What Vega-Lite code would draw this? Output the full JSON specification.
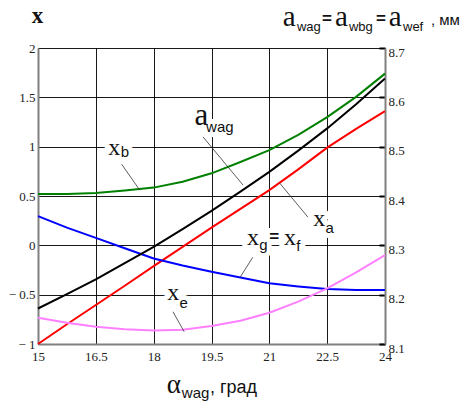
{
  "$schema": "https://vega.github.io/schema/vega-lite/v6.json",
  "width": 347,
  "height": 296,
  "autosize": {"type": "none"},
  "padding": {"left": 38, "top": 48, "right": 85, "bottom": 59},
  "background": "white",
  "config": {"view": {"stroke": null}},
  "datasets": {
    "curves": [
      {"s": "xb", "x": 15, "y": 0.52}, {"s": "xb", "x": 15.75, "y": 0.52}, {"s": "xb", "x": 16.5, "y": 0.53}, {"s": "xb", "x": 17.25, "y": 0.555}, {"s": "xb", "x": 18, "y": 0.585}, {"s": "xb", "x": 18.75, "y": 0.645}, {"s": "xb", "x": 19.5, "y": 0.73}, {"s": "xb", "x": 20.25, "y": 0.845}, {"s": "xb", "x": 21, "y": 0.965}, {"s": "xb", "x": 21.75, "y": 1.12}, {"s": "xb", "x": 22.5, "y": 1.3}, {"s": "xb", "x": 23.25, "y": 1.505}, {"s": "xb", "x": 24, "y": 1.74},
      {"s": "xa", "x": 15, "y": -1.0}, {"s": "xa", "x": 15.75, "y": -0.8}, {"s": "xa", "x": 16.5, "y": -0.605}, {"s": "xa", "x": 17.25, "y": -0.41}, {"s": "xa", "x": 18, "y": -0.21}, {"s": "xa", "x": 18.75, "y": -0.015}, {"s": "xa", "x": 19.5, "y": 0.18}, {"s": "xa", "x": 20.25, "y": 0.37}, {"s": "xa", "x": 21, "y": 0.56}, {"s": "xa", "x": 21.75, "y": 0.77}, {"s": "xa", "x": 22.5, "y": 0.99}, {"s": "xa", "x": 23.25, "y": 1.18}, {"s": "xa", "x": 24, "y": 1.36},
      {"s": "xg", "x": 15, "y": 0.296}, {"s": "xg", "x": 15.75, "y": 0.18}, {"s": "xg", "x": 16.5, "y": 0.076}, {"s": "xg", "x": 17.25, "y": -0.03}, {"s": "xg", "x": 18, "y": -0.133}, {"s": "xg", "x": 18.75, "y": -0.205}, {"s": "xg", "x": 19.5, "y": -0.268}, {"s": "xg", "x": 20.25, "y": -0.327}, {"s": "xg", "x": 21, "y": -0.385}, {"s": "xg", "x": 21.75, "y": -0.417}, {"s": "xg", "x": 22.5, "y": -0.443}, {"s": "xg", "x": 23.25, "y": -0.452}, {"s": "xg", "x": 24, "y": -0.453},
      {"s": "xe", "x": 15, "y": -0.734}, {"s": "xe", "x": 15.75, "y": -0.785}, {"s": "xe", "x": 16.5, "y": -0.825}, {"s": "xe", "x": 17.25, "y": -0.85}, {"s": "xe", "x": 18, "y": -0.862}, {"s": "xe", "x": 18.75, "y": -0.855}, {"s": "xe", "x": 19.5, "y": -0.818}, {"s": "xe", "x": 20.25, "y": -0.764}, {"s": "xe", "x": 21, "y": -0.683}, {"s": "xe", "x": 21.75, "y": -0.571}, {"s": "xe", "x": 22.5, "y": -0.437}, {"s": "xe", "x": 23.25, "y": -0.274}, {"s": "xe", "x": 24, "y": -0.1}
    ],
    "awag": [
      {"x": 15, "a": 8.172}, {"x": 15.75, "a": 8.201}, {"x": 16.5, "a": 8.231}, {"x": 17.25, "a": 8.264}, {"x": 18, "a": 8.297}, {"x": 18.75, "a": 8.333}, {"x": 19.5, "a": 8.37}, {"x": 20.25, "a": 8.409}, {"x": 21, "a": 8.449}, {"x": 21.75, "a": 8.492}, {"x": 22.5, "a": 8.537}, {"x": 23.25, "a": 8.586}, {"x": 24, "a": 8.638}
    ],
    "leaders": [
      {"x": 17.17, "y": 0.822, "x2": 17.64, "y2": 0.559},
      {"x": 19.28, "y": 1.099, "x2": 20.32, "y2": 0.61},
      {"x": 21.27, "y": 0.63, "x2": 22.0, "y2": 0.286},
      {"x": 20.57, "y": -0.122, "x2": 20.24, "y2": -0.325},
      {"x": 18.5, "y": -0.673, "x2": 18.79, "y2": -0.875}
    ],
    "labels": [
      {"k": "x", "g": "plot", "t": "x", "x": 16.82, "y": 0.914},
      {"k": "x", "g": "plot", "t": "x", "x": 22.14, "y": 0.195},
      {"k": "x", "g": "plot", "t": "x", "x": 20.42, "y": 0.002},
      {"k": "x", "g": "plot", "t": "x", "x": 21.38, "y": 0.002},
      {"k": "x", "g": "plot", "t": "x", "x": 18.35, "y": -0.554},
      {"k": "tx", "g": "title", "t": "x", "x": 14.84, "y": 2.25},
      {"k": "a", "g": "plot", "t": "a", "x": 19.06, "y": 1.217},
      {"k": "ta", "g": "title", "t": "a", "x": 21.35, "y": 2.22},
      {"k": "ta", "g": "title", "t": "a", "x": 22.7, "y": 2.22},
      {"k": "ta", "g": "title", "t": "a", "x": 24.1, "y": 2.22},
      {"k": "sub", "g": "plot", "t": "b", "x": 17.145, "y": 0.893},
      {"k": "sub", "g": "plot", "t": "wag", "x": 19.36, "y": 1.147},
      {"k": "sub", "g": "plot", "t": "a", "x": 22.46, "y": 0.124},
      {"k": "sub", "g": "plot", "t": "g", "x": 20.74, "y": -0.048},
      {"k": "sub", "g": "plot", "t": "f", "x": 21.7, "y": -0.055},
      {"k": "sub", "g": "plot", "t": "e", "x": 18.67, "y": -0.635},
      {"k": "tsub", "g": "title", "t": "wag", "x": 21.715, "y": 2.169},
      {"k": "tsub", "g": "title", "t": "wbg", "x": 23.065, "y": 2.169},
      {"k": "tsub", "g": "title", "t": "wef", "x": 24.467, "y": 2.169},
      {"k": "bsub", "g": "title", "t": "wag", "x": 18.73, "y": -1.547},
      {"k": "eq", "g": "plot", "t": "=", "x": 21.0, "y": 0.035},
      {"k": "eq", "g": "title", "t": "=", "x": 22.365, "y": 2.24},
      {"k": "eq", "g": "title", "t": "=", "x": 23.765, "y": 2.24},
      {"k": "unit", "g": "title", "t": ", мм", "x": 25.19, "y": 2.23},
      {"k": "alpha", "g": "title", "t": "α", "x": 18.34, "y": -1.496},
      {"k": "xunit", "g": "title", "t": ", град", "x": 19.46, "y": -1.496}
    ]
  },
  "encoding": {
    "x": {
      "field": "x", "type": "quantitative",
      "scale": {"domain": [15, 24], "nice": false, "zero": false},
      "axis": {
        "values": [15, 16.5, 18, 19.5, 21, 22.5, 24],
        "labelExpr": "'' + datum.value",
        "title": null, "grid": true, "gridColor": "#000000", "gridWidth": 1, "gridOpacity": 0.9,
        "ticks": false, "domainColor": "#808080", "domainWidth": 2,
        "labelFont": "Liberation Serif", "labelFontSize": 13, "labelColor": "#222222",
        "labelPadding": 6, "labelFlush": false, "labelOverlap": false
      }
    }
  },
  "layer": [
    {
      "encoding": {
        "y": {
          "field": "y", "type": "quantitative",
          "scale": {"domain": [-1, 2], "nice": false, "zero": false},
          "axis": {
            "values": [-1, -0.5, 0, 0.5, 1, 1.5, 2],
            "title": null, "grid": true, "gridColor": "#000000", "gridWidth": 1, "gridOpacity": 0.9,
            "ticks": false, "domainColor": "#808080", "domainWidth": 2,
            "labelFont": "Liberation Serif", "labelFontSize": 13, "labelColor": "#222222",
            "labelPadding": 3, "labelOverlap": false, "labelFlush": false,
            "labelExpr": "(datum.value < 0 ? '− ' : '') + abs(datum.value)"
          }
        }
      },
      "layer": [
        {
          "data": {"name": "curves"},
          "mark": {"type": "line", "strokeWidth": 2},
          "encoding": {
            "color": {"field": "s", "type": "nominal", "legend": null,
              "scale": {"domain": ["xb", "xa", "xg", "xe"], "range": ["#008000", "#ff0000", "#0000ff", "#ff80ff"]}}
          }
        },
        {
          "data": {"name": "labels"},
          "transform": [{"filter": "datum.g == 'plot' && datum.k == 'x'"}],
          "mark": {"type": "text", "font": "Liberation Serif", "fontSize": 24, "align": "left", "baseline": "alphabetic", "fill": "white", "stroke": "white", "strokeWidth": 10, "strokeJoin": "round"},
          "encoding": {"text": {"field": "t"}}
        },
        {
          "data": {"name": "labels"},
          "transform": [{"filter": "datum.g == 'plot' && datum.k == 'a'"}],
          "mark": {"type": "text", "font": "Liberation Serif", "fontSize": 31, "align": "left", "baseline": "alphabetic", "fill": "white", "stroke": "white", "strokeWidth": 10, "strokeJoin": "round"},
          "encoding": {"text": {"field": "t"}}
        },
        {
          "data": {"name": "labels"},
          "transform": [{"filter": "datum.g == 'plot' && datum.k == 'sub'"}],
          "mark": {"type": "text", "font": "Liberation Sans", "fontSize": 15, "align": "left", "baseline": "alphabetic", "fill": "white", "stroke": "white", "strokeWidth": 10, "strokeJoin": "round"},
          "encoding": {"text": {"field": "t"}}
        },
        {
          "data": {"name": "labels"},
          "transform": [{"filter": "datum.g == 'plot' && datum.k == 'eq'"}],
          "mark": {"type": "text", "font": "Liberation Sans", "fontSize": 17, "fontWeight": "bold", "align": "left", "baseline": "alphabetic", "fill": "white", "stroke": "white", "strokeWidth": 10, "strokeJoin": "round"},
          "encoding": {"text": {"field": "t"}}
        },
        {
          "data": {"name": "leaders"},
          "mark": {"type": "rule", "color": "#333333", "strokeWidth": 0.8},
          "encoding": {"x2": {"field": "x2"}, "y2": {"field": "y2"}}
        },
        {
          "data": {"name": "labels"},
          "transform": [{"filter": "datum.k == 'x'"}],
          "mark": {"type": "text", "font": "Liberation Serif", "fontSize": 24, "align": "left", "baseline": "alphabetic", "color": "#111111"},
          "encoding": {"text": {"field": "t"}}
        },
        {
          "data": {"name": "labels"},
          "transform": [{"filter": "datum.k == 'tx'"}],
          "mark": {"type": "text", "font": "Liberation Serif", "fontSize": 23, "fontWeight": "bold", "align": "left", "baseline": "alphabetic", "color": "#111111"},
          "encoding": {"text": {"field": "t"}}
        },
        {
          "data": {"name": "labels"},
          "transform": [{"filter": "datum.k == 'a'"}],
          "mark": {"type": "text", "font": "Liberation Serif", "fontSize": 31, "align": "left", "baseline": "alphabetic", "color": "#111111"},
          "encoding": {"text": {"field": "t"}}
        },
        {
          "data": {"name": "labels"},
          "transform": [{"filter": "datum.k == 'ta'"}],
          "mark": {"type": "text", "font": "Liberation Serif", "fontSize": 29, "align": "left", "baseline": "alphabetic", "color": "#111111"},
          "encoding": {"text": {"field": "t"}}
        },
        {
          "data": {"name": "labels"},
          "transform": [{"filter": "datum.k == 'sub'"}],
          "mark": {"type": "text", "font": "Liberation Sans", "fontSize": 15, "align": "left", "baseline": "alphabetic", "color": "#111111"},
          "encoding": {"text": {"field": "t"}}
        },
        {
          "data": {"name": "labels"},
          "transform": [{"filter": "datum.k == 'tsub'"}],
          "mark": {"type": "text", "font": "Liberation Sans", "fontSize": 13, "align": "left", "baseline": "alphabetic", "color": "#111111"},
          "encoding": {"text": {"field": "t"}}
        },
        {
          "data": {"name": "labels"},
          "transform": [{"filter": "datum.k == 'bsub'"}],
          "mark": {"type": "text", "font": "Liberation Sans", "fontSize": 15, "align": "left", "baseline": "alphabetic", "color": "#111111"},
          "encoding": {"text": {"field": "t"}}
        },
        {
          "data": {"name": "labels"},
          "transform": [{"filter": "datum.k == 'eq'"}],
          "mark": {"type": "text", "font": "Liberation Sans", "fontSize": 17, "fontWeight": "bold", "align": "left", "baseline": "alphabetic", "color": "#111111"},
          "encoding": {"text": {"field": "t"}}
        },
        {
          "data": {"name": "labels"},
          "transform": [{"filter": "datum.k == 'unit'"}],
          "mark": {"type": "text", "font": "Liberation Sans", "fontSize": 15, "align": "left", "baseline": "alphabetic", "color": "#111111"},
          "encoding": {"text": {"field": "t"}}
        },
        {
          "data": {"name": "labels"},
          "transform": [{"filter": "datum.k == 'alpha'"}],
          "mark": {"type": "text", "font": "Liberation Serif", "fontSize": 27, "align": "left", "baseline": "alphabetic", "color": "#111111"},
          "encoding": {"text": {"field": "t"}}
        },
        {
          "data": {"name": "labels"},
          "transform": [{"filter": "datum.k == 'xunit'"}],
          "mark": {"type": "text", "font": "Liberation Sans", "fontSize": 18, "align": "left", "baseline": "alphabetic", "color": "#111111"},
          "encoding": {"text": {"field": "t"}}
        }
      ]
    },
    {
      "data": {"name": "awag"},
      "mark": {"type": "line", "strokeWidth": 2, "color": "#000000"},
      "encoding": {
        "y": {
          "field": "a", "type": "quantitative",
          "scale": {"domain": [8.1, 8.7], "nice": false, "zero": false},
          "axis": {
            "orient": "right", "values": [8.1, 8.2, 8.3, 8.4, 8.5, 8.6, 8.7],
            "title": null, "grid": false, "format": ".1f",
            "ticks": true, "tickSize": -6, "tickWidth": 2, "tickColor": "#000000",
            "domainColor": "#808080", "domainWidth": 2,
            "labelFont": "Liberation Serif", "labelFontSize": 13, "labelColor": "#222222",
            "labelPadding": 9, "labelOffset": 4, "labelOverlap": false, "labelFlush": false
          }
        }
      }
    }
  ],
  "resolve": {"scale": {"y": "independent"}}
}
